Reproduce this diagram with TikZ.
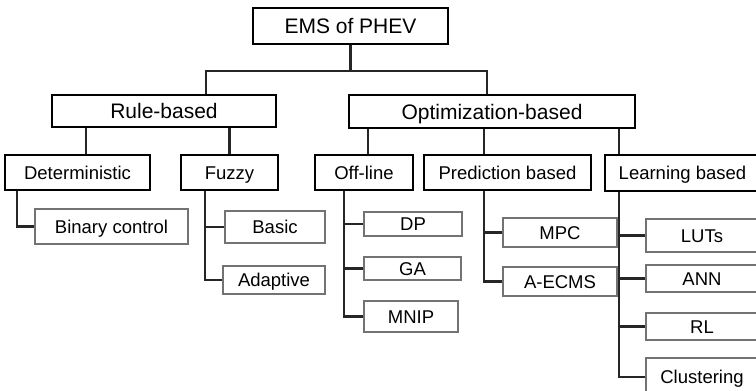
\documentclass[tikz,border=0pt]{standalone}
\usepackage{fontspec}
\setmainfont{Liberation Sans}
\begin{document}
\begin{tikzpicture}[
    x=1pt, y=-1pt,
    every node/.style={font=\fontsize{18.5}{20}\selectfont, inner sep=0pt,
        text height=13.3pt, text depth=0pt},
    head/.style={draw=black, line width=2pt, font=\fontsize{21}{24}\selectfont,
        text height=15pt},
    group/.style={draw=black, line width=2pt},
    leaf/.style={draw=black!55, line width=1.2pt},
    link/.style={draw=black!85, line width=2.2pt}
]
\useasboundingbox (0,0) rectangle (756,391);
\clip (0,0) rectangle (756,391);
\node[head, minimum width=195pt, minimum height=36pt] (ems) at (350.5,26) {EMS of PHEV};
\node[head, minimum width=224pt, minimum height=32pt] (rule) at (164,111) {Rule-based};
\node[head, minimum width=286pt, minimum height=33pt] (opt) at (492,111.5) {Optimization-based};
\node[group, minimum width=145pt, minimum height=35pt] (det) at (77.5,172.5) {Deterministic};
\node[group, minimum width=97pt, minimum height=35pt] (fuzzy) at (229.5,172.5) {Fuzzy};
\node[group, minimum width=98pt, minimum height=35pt] (offline) at (364,172.5) {Off-line};
\node[group, minimum width=167pt, minimum height=35pt] (pred) at (507.5,172.5) {Prediction based};
\node[group, minimum width=155pt, minimum height=36pt] (learn) at (682.5,173) {Learning based};
\node[leaf, minimum width=153pt, minimum height=35pt] (binary) at (111.5,226.5) {Binary control};
\node[leaf, minimum width=100pt, minimum height=32pt] (basic) at (275,227) {Basic};
\node[leaf, minimum width=102pt, minimum height=28pt] (adaptive) at (274,280) {Adaptive};
\node[leaf, minimum width=98pt, minimum height=24pt] (dp) at (413,224) {DP};
\node[leaf, minimum width=97pt, minimum height=23pt] (ga) at (412.5,268.5) {GA};
\node[leaf, minimum width=94pt, minimum height=31pt] (mnip) at (411,316.5) {MNIP};
\node[leaf, minimum width=114pt, minimum height=29pt] (mpc) at (560,232.5) {MPC};
\node[leaf, minimum width=114pt, minimum height=29pt] (aecms) at (560,281.5) {A-ECMS};
\node[leaf, minimum width=112pt, minimum height=33pt] (luts) at (702,235.5) {LUTs};
\node[leaf, minimum width=112pt, minimum height=27pt] (ann) at (702,278.5) {ANN};
\node[leaf, minimum width=112pt, minimum height=27pt] (rl) at (702,326.5) {RL};
\node[leaf, minimum width=112pt, minimum height=38pt] (clust) at (702,377) {Clustering};
\draw[link] (ems.south) -- ++(0,26) -| ([xshift=42pt]rule.north);
\draw[link] (ems.south) -- ++(0,26) -| ([xshift=-5pt]opt.north);
\draw[link] ([xshift=8.5pt]det.north) -- ([xshift=8.5pt]det.north |- rule.south);
\draw[link] (fuzzy.north) -- (fuzzy.north |- rule.south);
\draw[link] ([xshift=4pt]offline.north) -- ([xshift=4pt]offline.north |- opt.south);
\draw[link] ([xshift=61pt]pred.north west) -- ([xshift=61pt]pred.north west |- opt.south);
\draw[link] ([xshift=15pt]learn.north west) -- ([xshift=15pt]learn.north west |- opt.south);
\draw[link] ([xshift=13pt]det.south west) |- (binary.west);
\foreach \n in {basic, adaptive}
    \draw[link] ([xshift=25pt]fuzzy.south west) |- (\n.west);
\foreach \n in {dp, ga, mnip}
    \draw[link] ([xshift=30pt]offline.south west) |- (\n.west);
\foreach \n in {mpc, aecms}
    \draw[link] ([xshift=61pt]pred.south west) |- (\n.west);
\foreach \n in {luts, ann, rl, clust}
    \draw[link] ([xshift=15pt]learn.south west) |- (\n.west);
\end{tikzpicture}
\end{document}
